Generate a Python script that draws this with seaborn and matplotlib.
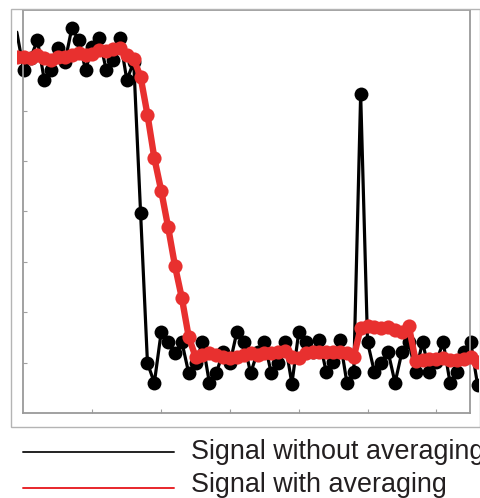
import numpy as np
import pandas as pd
import matplotlib
matplotlib.use("Agg")
import matplotlib.pyplot as plt
from matplotlib.lines import Line2D
from matplotlib.patches import Rectangle
from matplotlib.transforms import Bbox, TransformedBbox
import seaborn as sns

# sample index (x = sample - 1) (grid units 0..8)
samples = list(range(-1, 67))

raw_signal = [7.56, 6.81, 7.05, 7.40, 6.61, 6.81, 7.25, 6.97, 7.64, 7.40,
              6.81, 7.27, 7.44, 6.81, 7.01, 7.44, 6.61, 6.97, 3.97, 0.99,
              0.60, 1.61, 1.41, 1.19, 1.41, 0.79, 0.99, 1.41, 0.60, 0.79,
              1.21, 0.99, 1.61, 1.41, 0.79, 1.21, 1.41, 0.79, 0.99, 1.41,
              0.58, 1.61, 1.41, 1.21, 1.45, 0.81, 1.01, 1.45, 0.60, 0.81,
              6.33, 1.41, 0.81, 0.99, 1.21, 0.60, 1.21, 1.41, 0.81, 1.41,
              0.81, 1.01, 1.41, 0.60, 0.81, 1.21, 1.41, 0.56]

avg_signal = [7.07, 7.07, 7.05, 7.11, 7.05, 7.01, 7.07, 7.07, 7.11, 7.15,
              7.11, 7.13, 7.21, 7.19, 7.23, 7.25, 7.11, 7.03, 6.67, 5.92,
              5.06, 4.41, 3.69, 2.92, 2.28, 1.51, 1.11, 1.15, 1.19, 1.15,
              1.11, 1.09, 1.11, 1.15, 1.19, 1.15, 1.19, 1.19, 1.21, 1.23,
              1.11, 1.09, 1.19, 1.21, 1.21, 1.21, 1.21, 1.21, 1.19, 1.11,
              1.69, 1.73, 1.71, 1.69, 1.71, 1.65, 1.61, 1.73, 1.03, 1.05,
              1.07, 1.07, 1.09, 1.05, 1.05, 1.07, 1.11, 1.01]

labels = ["Signal without averaging", "Signal with averaging"]

df = pd.DataFrame({"x": samples, "raw": raw_signal, "avg": avg_signal})

sns.set_style("white")
plt.rcParams['font.family'] = ['Liberation Sans', 'DejaVu Sans']

W, H = 481, 498
fig = plt.figure(figsize=(W / 100, H / 100), dpi=100)
ax = fig.add_axes([23 / W, 1 - 413 / H, 447 / W, 403 / H])

red = "#e8302f"
# first raw sample sits outside the frame: only its line segment shows
sns.lineplot(data=df, x="x", y="raw", ax=ax, color="black", linewidth=2.3,
             marker="o", markersize=10, markeredgecolor="black",
             markeredgewidth=0, markevery=slice(1, None), zorder=2)
sns.lineplot(data=df, x="x", y="avg", ax=ax, color=red, linewidth=4.6,
             marker="o", markersize=10.2, markeredgecolor=red,
             markeredgewidth=0, zorder=3)

ax.set_xlim(-0.1, 64.9)
ax.set_ylim(0, 8)
ax.set_xticks(range(10, 61, 10))
ax.set_yticks(range(1, 8))
ax.set_xticklabels([])
ax.set_yticklabels([])
ax.set_xlabel("")
ax.set_ylabel("")
ax.tick_params(direction="in", length=3, width=0.8, color="#a0a0a0",
               left=True, bottom=True)
for s in ax.spines.values():
    s.set_color("#9a9a9a")
    s.set_linewidth(1.3)

# lines run a bit past the plotting box, as in the original
clip = TransformedBbox(Bbox([[17 / W, 0], [478 / W, 1]]), fig.transFigure)
for ln in ax.lines:
    ln.set_clip_box(clip)

# outer frame
fig.add_artist(Rectangle((11 / W, 1 - 427 / H), 469 / W, 417.5 / H,
                         transform=fig.transFigure, fill=False,
                         edgecolor="#b4b4b4", linewidth=1.0))

# legend drawn below the frame
for lab, col, ly, ty in [(labels[0], "#222222", 451.7, 459.3),
                         (labels[1], "#e8262b", 487.7, 491.7)]:
    fig.add_artist(Line2D([23 / W, 174 / W], [1 - ly / H, 1 - ly / H],
                          transform=fig.transFigure, color=col, linewidth=1.4))
    fig.text(191.5 / W, 1 - ty / H, lab, fontsize=19.4, color="#231f20",
             va="baseline", ha="left")

fig.savefig("out.png", dpi=100)
